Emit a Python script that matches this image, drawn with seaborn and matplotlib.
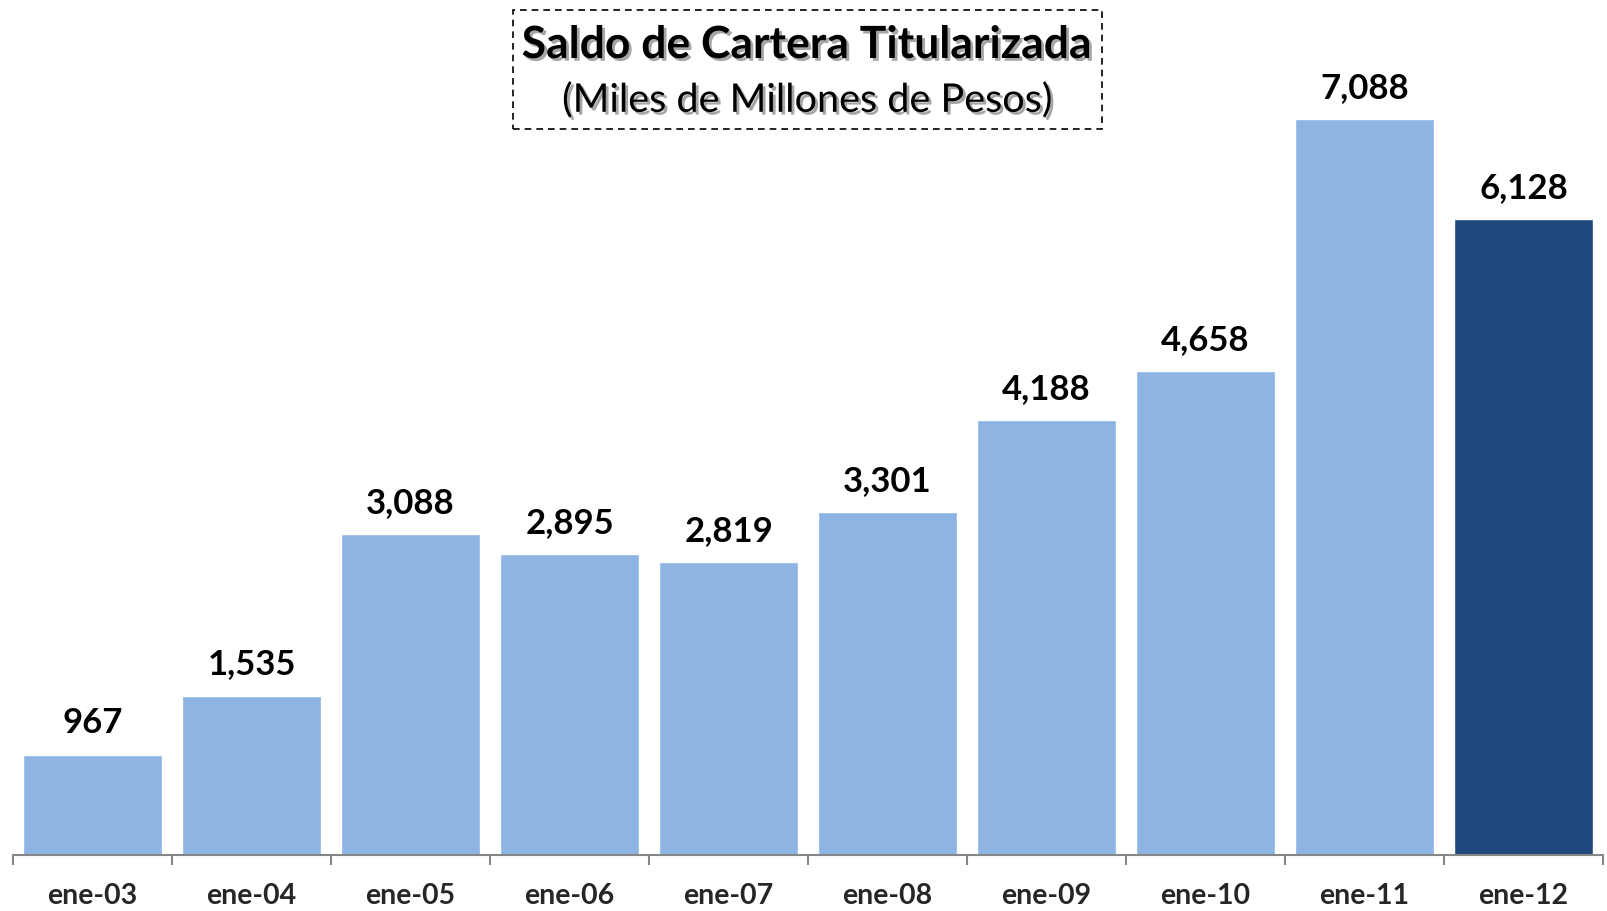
import matplotlib
matplotlib.use("Agg")
import matplotlib.pyplot as plt
import matplotlib.patheffects as pe
from matplotlib.patches import Rectangle
import seaborn as sns
import pandas as pd

#Data

periodos = ["ene-03", "ene-04", "ene-05", "ene-06", "ene-07",
            "ene-08", "ene-09", "ene-10", "ene-11", "ene-12"]
saldo = [967, 1535, 3088, 2895, 2819, 3301, 4188, 4658, 7088, 6128]
colores = ["#8EB4E3"] * 9 + ["#1F497D"]

df = pd.DataFrame({"periodo": periodos, "saldo": saldo})

sns.set_style("white")
plt.rcParams["font.family"] = ["Lato", "DejaVu Sans"]

fig = plt.figure(figsize=(16.08, 9.11), dpi=100)
ax = fig.add_axes([13 / 1608, 56 / 911, 1590 / 1608, 830.4 / 911])

sns.barplot(
    data=df,
    x="periodo",
    y="saldo",
    hue="periodo",
    palette=colores,
    legend=False,
    width=0.875,
    saturation=1,
    ax=ax
)

for c in ax.containers:
    ax.bar_label(
        c,
        labels=[f"{v:,.0f}" for v in c.datavalues],
        padding=11,
        fontsize=25,
        fontweight="bold",
        color="black"
    )

ax.set_xlim(-0.5, len(periodos) - 0.5)
ax.set_ylim(0, 8000)
ax.set_xlabel("")
ax.set_ylabel("")
ax.set_yticks([])

# category boundary ticks
ax.set_xticks([i - 0.5 for i in range(len(periodos) + 1)], minor=True)
ax.tick_params(axis="x", which="minor", bottom=True, length=7, width=1.5,
               color="#868686", direction="out")
ax.tick_params(axis="x", which="major", bottom=True, length=0, pad=20,
               labelsize=20.5)
for lbl in ax.get_xticklabels():
    lbl.set_fontweight("bold")

for s in ["left", "right", "top"]:
    ax.spines[s].set_visible(False)
ax.spines["bottom"].set_color("#868686")
ax.spines["bottom"].set_linewidth(1.5)

#Title box

sombra = [pe.SimplePatchShadow(offset=(2, -2), alpha=0.35), pe.Normal()]
fig.text(807 / 1608, 1 - 45 / 911, "Saldo de Cartera Titularizada",
         ha="center", va="center", fontsize=32, fontweight="bold",
         color="black", path_effects=sombra)
fig.text(807 / 1608, 1 - 100 / 911, "(Miles de Millones de Pesos)",
         ha="center", va="center", fontsize=28.5,
         color="black", path_effects=sombra)
fig.patches.append(Rectangle(
    (513 / 1608, 1 - 129 / 911), 589 / 1608, 119 / 911,
    transform=fig.transFigure, fill=False, edgecolor="black",
    linestyle=(0, (4, 3)), linewidth=1.2
))

plt.savefig("out.png", dpi=100)
